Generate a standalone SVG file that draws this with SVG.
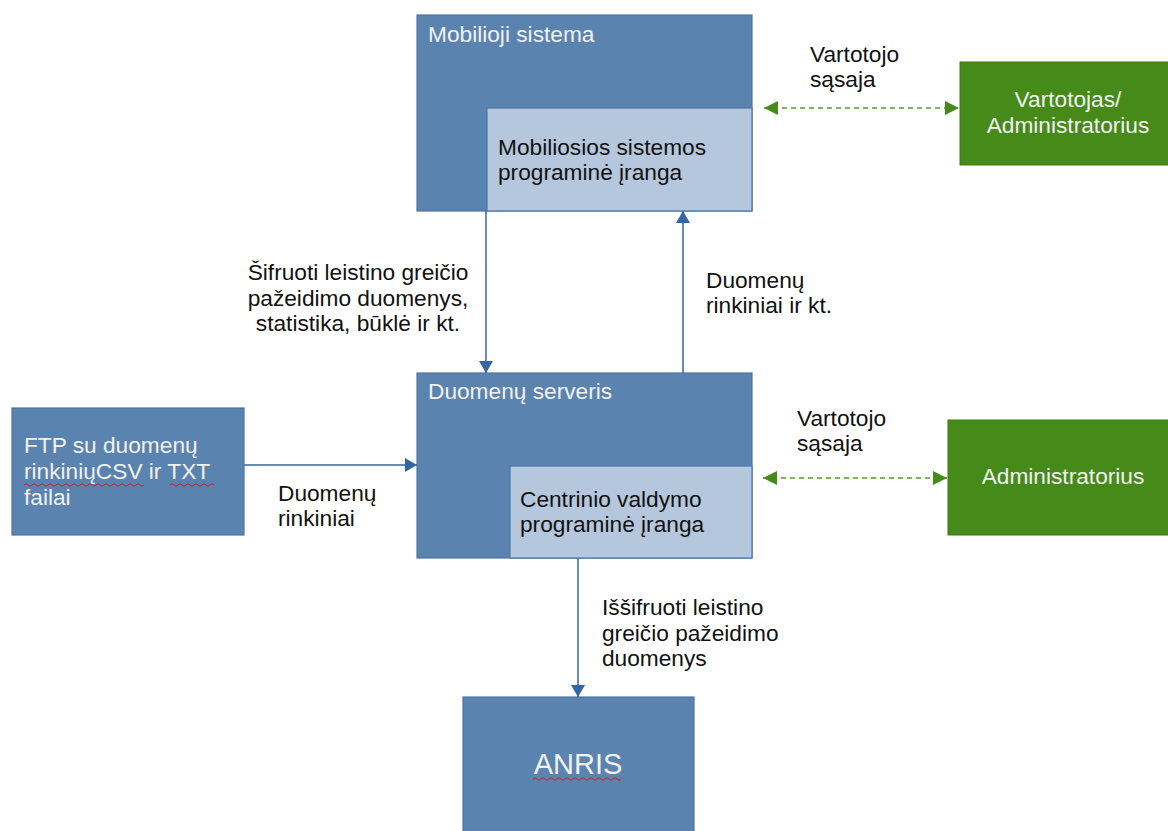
<svg xmlns="http://www.w3.org/2000/svg" width="1168" height="831" viewBox="0 0 1168 831">
<style>
text{font-family:"Liberation Sans",Arial,sans-serif;font-size:22.7px}
.dark{fill:#5a83b0;stroke:#4d76a6;stroke-width:1.2}
.light{fill:#b4c7dc;stroke:#4d76a6;stroke-width:1.2}
.green{fill:#468a1a;stroke:#3d7a16;stroke-width:1}
.wt{fill:#f2f2f2}
.bt{fill:#111111}
.blue{stroke:#3465a4;stroke-width:1.5;fill:none}
.dash{stroke:#5a9a2a;stroke-width:1.6;fill:none;stroke-dasharray:5 4}
.sq{stroke:#c9211e;stroke-width:1;fill:none}
</style>
<defs>
<marker id="ab" viewBox="0 0 12 14" refX="12" refY="7" markerWidth="12" markerHeight="14" markerUnits="userSpaceOnUse" orient="auto">
<path d="M0,0 L12,7 L0,14 Z" fill="#3465a4"/>
</marker>
<marker id="ag" viewBox="0 0 14 14" refX="14" refY="7" markerWidth="14" markerHeight="14" markerUnits="userSpaceOnUse" orient="auto-start-reverse">
<path d="M0,0 L14,7 L0,14 Z" fill="#468a1a"/>
</marker>
</defs>

<g id="mobilioji">
<rect class="dark" x="417" y="15" width="335" height="196"/>
<text class="wt" x="428" y="42">Mobilioji sistema</text>
<rect class="light" x="487" y="108" width="265" height="103"/>
<text class="bt" x="498" y="155">Mobiliosios sistemos</text>
<text class="bt" x="498" y="180">programinė įranga</text>
</g>

<g id="vartotojas">
<rect class="green" x="960" y="62" width="212" height="103"/>
<text class="wt" x="1068" y="107" text-anchor="middle">Vartotojas/</text>
<text class="wt" x="1068" y="133" text-anchor="middle">Administratorius</text>
</g>

<g id="serveris">
<rect class="dark" x="417" y="373" width="335" height="185"/>
<text class="wt" x="428" y="399">Duomenų serveris</text>
<rect class="light" x="510" y="466" width="242" height="92"/>
<text class="bt" x="520" y="507">Centrinio valdymo</text>
<text class="bt" x="520" y="532">programinė įranga</text>
</g>

<g id="ftp">
<rect class="dark" x="12" y="408" width="232" height="127"/>
<text class="wt" x="24" y="453">FTP su duomenų</text>
<text class="wt" x="24" y="479">rinkiniųCSV ir TXT</text>
<text class="wt" x="24" y="505">failai</text>
<path class="sq" d="M24,485 q2,-2.5 4,0 t4,0 t4,0 t4,0 t4,0 t4,0 t4,0 t4,0 t4,0 t4,0 t4,0 t4,0 t4,0 t4,0 t4,0 t4,0 t4,0 t4,0 t4,0 t4,0 t4,0 t4,0 t4,0 t4,0 t4,0 t4,0 t4,0 t4,0 t4,0 t4,0"/>
<path class="sq" d="M170,485 q2,-2.5 4,0 t4,0 t4,0 t4,0 t4,0 t4,0 t4,0 t4,0 t4,0 t4,0 t4,0"/>
</g>

<g id="administratorius">
<rect class="green" x="948" y="420" width="224" height="115"/>
<text class="wt" x="1063" y="484" text-anchor="middle">Administratorius</text>
</g>

<g id="anris">
<rect class="dark" x="463" y="697" width="231" height="140"/>
<text class="wt" x="578" y="774" text-anchor="middle" style="font-size:29px">ANRIS</text>
<path class="sq" d="M533,779 q2,-2.5 4,0 t4,0 t4,0 t4,0 t4,0 t4,0 t4,0 t4,0 t4,0 t4,0 t4,0 t4,0 t4,0 t4,0 t4,0 t4,0 t4,0 t4,0 t4,0 t4,0 t4,0 t4,0"/>
</g>

<g id="connectors">
<line class="blue" x1="486" y1="211" x2="486" y2="373" marker-end="url(#ab)"/>
<line class="blue" x1="683" y1="373" x2="683" y2="211" marker-end="url(#ab)"/>
<line class="blue" x1="244" y1="465" x2="417" y2="465" marker-end="url(#ab)"/>
<line class="blue" x1="578" y1="558" x2="578" y2="697" marker-end="url(#ab)"/>
<line class="dash" x1="764" y1="108" x2="959" y2="108" marker-start="url(#ag)" marker-end="url(#ag)"/>
<line class="dash" x1="763" y1="478" x2="947" y2="478" marker-start="url(#ag)" marker-end="url(#ag)"/>
</g>

<g id="labels" class="bt">
<text x="810" y="62">Vartotojo</text>
<text x="810" y="87">sąsaja</text>
<text x="358" y="280" text-anchor="middle">Šifruoti leistino greičio</text>
<text x="358" y="306" text-anchor="middle">pažeidimo duomenys,</text>
<text x="358" y="331" text-anchor="middle">statistika, būklė ir kt.</text>
<text x="706" y="288">Duomenų</text>
<text x="706" y="313">rinkiniai ir kt.</text>
<text x="278" y="501">Duomenų</text>
<text x="278" y="526">rinkiniai</text>
<text x="797" y="426">Vartotojo</text>
<text x="797" y="451">sąsaja</text>
<text x="602" y="615">Iššifruoti leistino</text>
<text x="602" y="641">greičio pažeidimo</text>
<text x="602" y="666">duomenys</text>
</g>
</svg>
